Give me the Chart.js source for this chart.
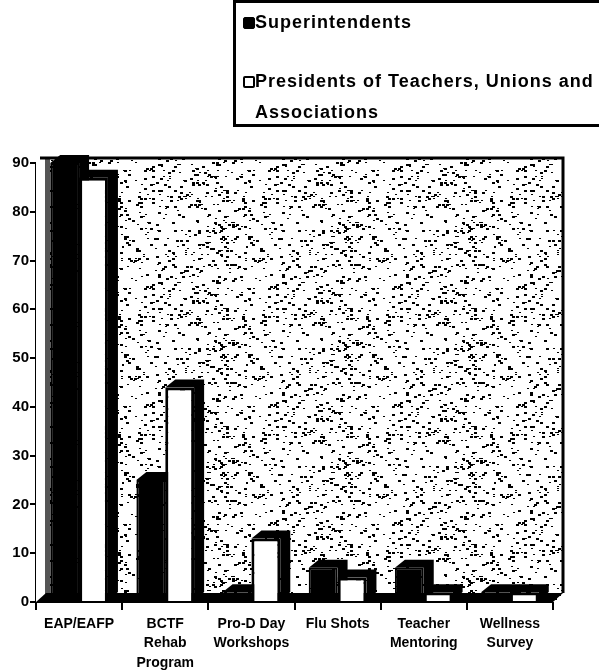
<!DOCTYPE html>
<html>
<head>
<meta charset="utf-8">
<script src="https://cdn.jsdelivr.net/npm/chart.js@4.4.0/dist/chart.umd.min.js"></script>
<style>
  body { margin: 0; background: #fff; }
  #wrap { position: relative; width: 599px; height: 670px; overflow: hidden; }
  #legend { position: absolute; left: 233px; top: 0px; width: 400px; height: 121px; border: 3px solid #000; }
  .lg { position: absolute; font: bold 18px "Liberation Sans", Arial, sans-serif; letter-spacing: 1px; line-height: 20px; white-space: nowrap; color: #000; }
  .sw { position: absolute; width: 10px; height: 10px; border: 1px solid #000; border-radius: 2px; }
</style>
</head>
<body>
<div id="wrap">
  <canvas id="chart" width="599" height="670"></canvas>
  <div id="legend"></div>
</div>
<script>
const categories = [["EAP/EAFP"], ["BCTF", "Rehab", "Program"], ["Pro-D Day", "Workshops"], ["Flu Shots"], ["Teacher", "Mentoring"], ["Wellness", "Survey"]];
const seriesNames = ["Superintendents", "Presidents of Teachers, Unions and Associations"];
const superintendents = [90, 25, 2, 7, 7, 2];
const presidents = [87, 44, 13, 5, 2, 2];
const yMax = 90;
const yStep = 10;

// legend (html, two lines for the second series)
const legend = document.getElementById("legend");
legend.innerHTML = `
  <div class="sw" style="left:7px;top:14px;background:#000"></div>
  <div class="lg" style="left:19px;top:9px">${seriesNames[0]}</div>
  <div class="sw" style="left:7px;top:73px;background:#fff;border:2px solid #000;width:8px;height:8px"></div>
  <div class="lg" style="left:19px;top:68px">Presidents of Teachers, Unions and</div>
  <div class="lg" style="left:19px;top:99px">Associations</div>`;

// speckled wall texture (deterministic hash, just a look)
function speckle() {
  const c = document.createElement("canvas");
  c.width = 124; c.height = 118;
  const g = c.getContext("2d");
  g.fillStyle = "#fff";
  g.fillRect(0, 0, c.width, c.height);
  g.fillStyle = "#000";
  for (let y = 0; y < c.height; y += 2) {
    for (let x = 0; x < c.width; x += 2) {
      let h = Math.sin(x * 12.9898 + y * 78.233) * 43758.5453;
      h = h - Math.floor(h);
      if (h < 0.06) g.fillRect(x, y, 3, 2);
      else if (h < 0.11) g.fillRect(x + 1, y, 2, 1);
    }
  }
  return c;
}

const DX = 10, DY = 8;

const wall3d = {
  id: "wall3d",
  beforeDatasetsDraw(chart) {
    const ctx = chart.ctx;
    const { left, right, top, bottom } = chart.chartArea;
    ctx.save();
    // back wall
    ctx.fillStyle = ctx.createPattern(speckle(), "repeat");
    ctx.fillRect(left, top - 5, right + DX - left, bottom - top + 5);
    // left side wall
    ctx.fillStyle = "#fff";
    ctx.fillRect(left, top - 5, 9, bottom - top + 5);
    ctx.fillStyle = "#555";
    ctx.fillRect(left + 9, top - 5, 5, bottom - top + 5);
    // floor
    ctx.fillStyle = "#000";
    ctx.beginPath();
    ctx.moveTo(left, bottom);
    ctx.lineTo(right, bottom);
    ctx.lineTo(right + DX, bottom - 9);
    ctx.lineTo(left + DX, bottom - 9);
    ctx.closePath();
    ctx.fill();
    // wall border
    ctx.strokeStyle = "#000";
    ctx.lineWidth = 3;
    ctx.beginPath();
    ctx.moveTo(left + 4, top - 5);
    ctx.lineTo(right + DX, top - 5);
    ctx.lineTo(right + DX, bottom - 9);
    ctx.stroke();
    // bar depth (top + side faces) from the bar elements
    chart.data.datasets.forEach((ds, i) => {
      chart.getDatasetMeta(i).data.forEach(bar => {
        const x0 = bar.x - bar.width / 2, x1 = bar.x + bar.width / 2;
        ctx.beginPath();
        ctx.moveTo(x0, bar.y);
        ctx.lineTo(x0 + DX, bar.y - DY);
        ctx.lineTo(x1 + DX, bar.y - DY);
        ctx.lineTo(x1 + DX, bar.base - 9);
        ctx.lineTo(x1, bar.base);
        ctx.lineTo(x1, bar.y);
        ctx.closePath();
        ctx.fill();
      });
    });
    ctx.restore();
  }
};

const font = { family: "'Liberation Sans', Arial, sans-serif", weight: "bold" };

new Chart(document.getElementById("chart"), {
  type: "bar",
  data: {
    labels: categories,
    datasets: [
      { label: seriesNames[0], data: superintendents, backgroundColor: "#000", borderColor: "#000", borderWidth: 2 },
      { label: seriesNames[1], data: presidents, backgroundColor: "#fff", borderColor: "#000", borderWidth: 3 }
    ]
  },
  options: {
    responsive: false,
    animation: false,
    devicePixelRatio: 1,
    layout: { padding: { top: 163, right: 46, left: 0, bottom: 0 } },
    plugins: { legend: { display: false }, tooltip: { enabled: false } },
    datasets: { bar: { categoryPercentage: 0.67, barPercentage: 1.0 } },
    scales: {
      x: {
        afterFit: s => { s.height = 68; },
        grid: { display: true, drawOnChartArea: false, tickLength: 8, color: "#000", lineWidth: 2, offset: true },
        border: { display: true, color: "#000", width: 2 },
        ticks: { color: "#000", font: { ...font, size: 14, lineHeight: 1.4 }, padding: 4, maxRotation: 0, autoSkip: false }
      },
      y: {
        min: 0,
        max: yMax,
        afterFit: s => { s.width = 36; },
        grid: { display: true, drawOnChartArea: false, tickLength: 6, color: "#000", lineWidth: 2 },
        border: { display: true, color: "#000", width: 3 },
        ticks: { stepSize: yStep, color: "#000", font: { ...font, size: 15 }, padding: 1 }
      }
    }
  },
  plugins: [wall3d]
});
</script>
</body>
</html>
